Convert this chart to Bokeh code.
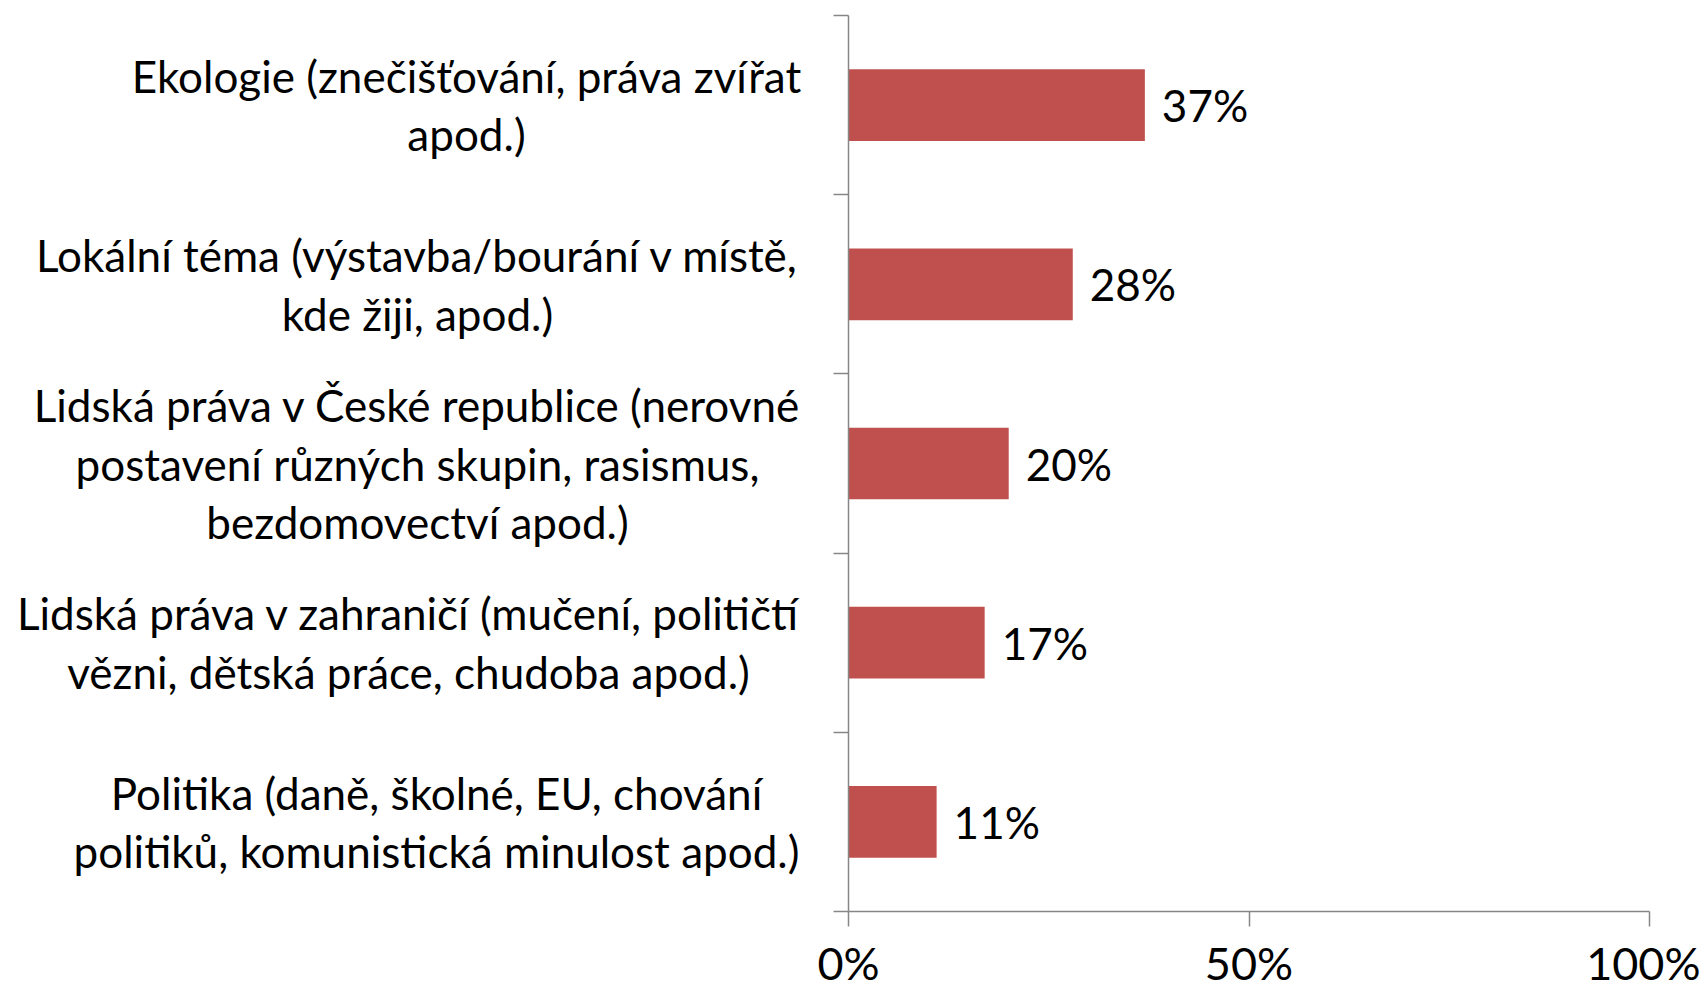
from bokeh.plotting import figure
from bokeh.models import Range1d, FixedTicker, ColumnDataSource
from bokeh.layouts import row
from bokeh.core.properties import value
from bokeh.embed import file_html
from bokeh.resources import INLINE

# ---- data ----
categories = [
    ["Ekologie (znečišťování, práva zvířat", "apod.)"],
    ["Lokální téma (výstavba/bourání v místě,", "kde žiji, apod.)"],
    ["Lidská práva v České republice (nerovné", "postavení různých skupin, rasismus,", "bezdomovectví apod.)"],
    ["Lidská práva v zahraničí (mučení, političtí", "vězni, dětská práce, chudoba apod.)"],
    ["Politika (daně, školné, EU, chování", "politiků, komunistická minulost apod.)"],
]
values = [37, 28, 20, 17, 11]
x_ticks = [0, 50, 100]
x_tick_labels = ["0%", "50%", "100%"]

# ---- layout ----
W, H = 1700, 993
LW = 808                 # width of the label panel
ML, MR, MT, MB = 40, 51, 15, 82
FONT = "Lato"
CAT_FS = "44px"
VAL_FS = "44px"
TICK_FS = "45px"
BAR_COLOR = "#C0504D"
AXIS_COLOR = "#868686"

n = len(values)
frame_h = H - MT - MB
px_per_y = frame_h / n
label_center_px = [466, 417, 417, 408, 436]  # centres of label blocks
line_gap_px = 58.7

# ---- label panel ----
pl = figure(width=LW, height=H, output_backend="svg", toolbar_location=None,
            x_range=Range1d(0, LW), y_range=Range1d(n, 0),
            min_border_left=0, min_border_right=0, min_border_top=MT, min_border_bottom=MB)
pl.axis.visible = False
pl.grid.visible = False
pl.outline_line_color = None

ys = [i + 0.5 for i in range(n)]
lx, ly, lt = [], [], []
for i, lines in enumerate(categories):
    m = len(lines)
    for j, t in enumerate(lines):
        lx.append(label_center_px[i])
        ly.append(ys[i] + (j - (m - 1) / 2) * line_gap_px / px_per_y)
        lt.append(t)
pl.text(x=lx, y=ly, text=lt, text_align="center", text_baseline="middle",
        text_font=value(FONT), text_font_size=CAT_FS, text_color="black")

# ---- chart ----
p = figure(width=W - LW, height=H, output_backend="svg", toolbar_location=None,
           x_range=Range1d(0, 100), y_range=Range1d(n, 0),
           min_border_left=ML, min_border_right=MR, min_border_top=MT, min_border_bottom=MB)
p.outline_line_color = None
p.xgrid.visible = False
p.ygrid.visible = False

src = ColumnDataSource(dict(y=ys, v=values, lbl=[f"{v}%" for v in values]))
p.hbar(y="y", left=0, right="v", height=0.4, source=src,
       fill_color=BAR_COLOR, line_color=None)
p.text(x="v", y="y", text="lbl", source=src, x_offset=17,
       text_align="left", text_baseline="middle",
       text_font=value(FONT), text_font_size=VAL_FS, text_color="black")

xa = p.xaxis[0]
xa.ticker = FixedTicker(ticks=x_ticks)
xa.major_label_overrides = {t: l for t, l in zip(x_ticks, x_tick_labels)}
xa.minor_tick_line_color = None
xa.major_tick_in = 0
xa.major_tick_out = 15
xa.axis_line_color = AXIS_COLOR
xa.major_tick_line_color = AXIS_COLOR
xa.axis_line_width = 1.5
xa.major_tick_line_width = 1.5
xa.major_label_text_font = FONT
xa.major_label_text_font_size = TICK_FS
xa.major_label_text_color = "black"
xa.major_label_standoff = 9

ya = p.yaxis[0]
ya.ticker = FixedTicker(ticks=list(range(n + 1)))
ya.major_label_overrides = {i: "" for i in range(n + 1)}
ya.major_label_text_font_size = "1px"
ya.minor_tick_line_color = None
ya.major_tick_in = 0
ya.major_tick_out = 15
ya.axis_line_color = AXIS_COLOR
ya.major_tick_line_color = AXIS_COLOR
ya.axis_line_width = 1.5
ya.major_tick_line_width = 1.5

layout = row(pl, p, spacing=0)
open("out.html", "w").write(file_html(layout, INLINE))
